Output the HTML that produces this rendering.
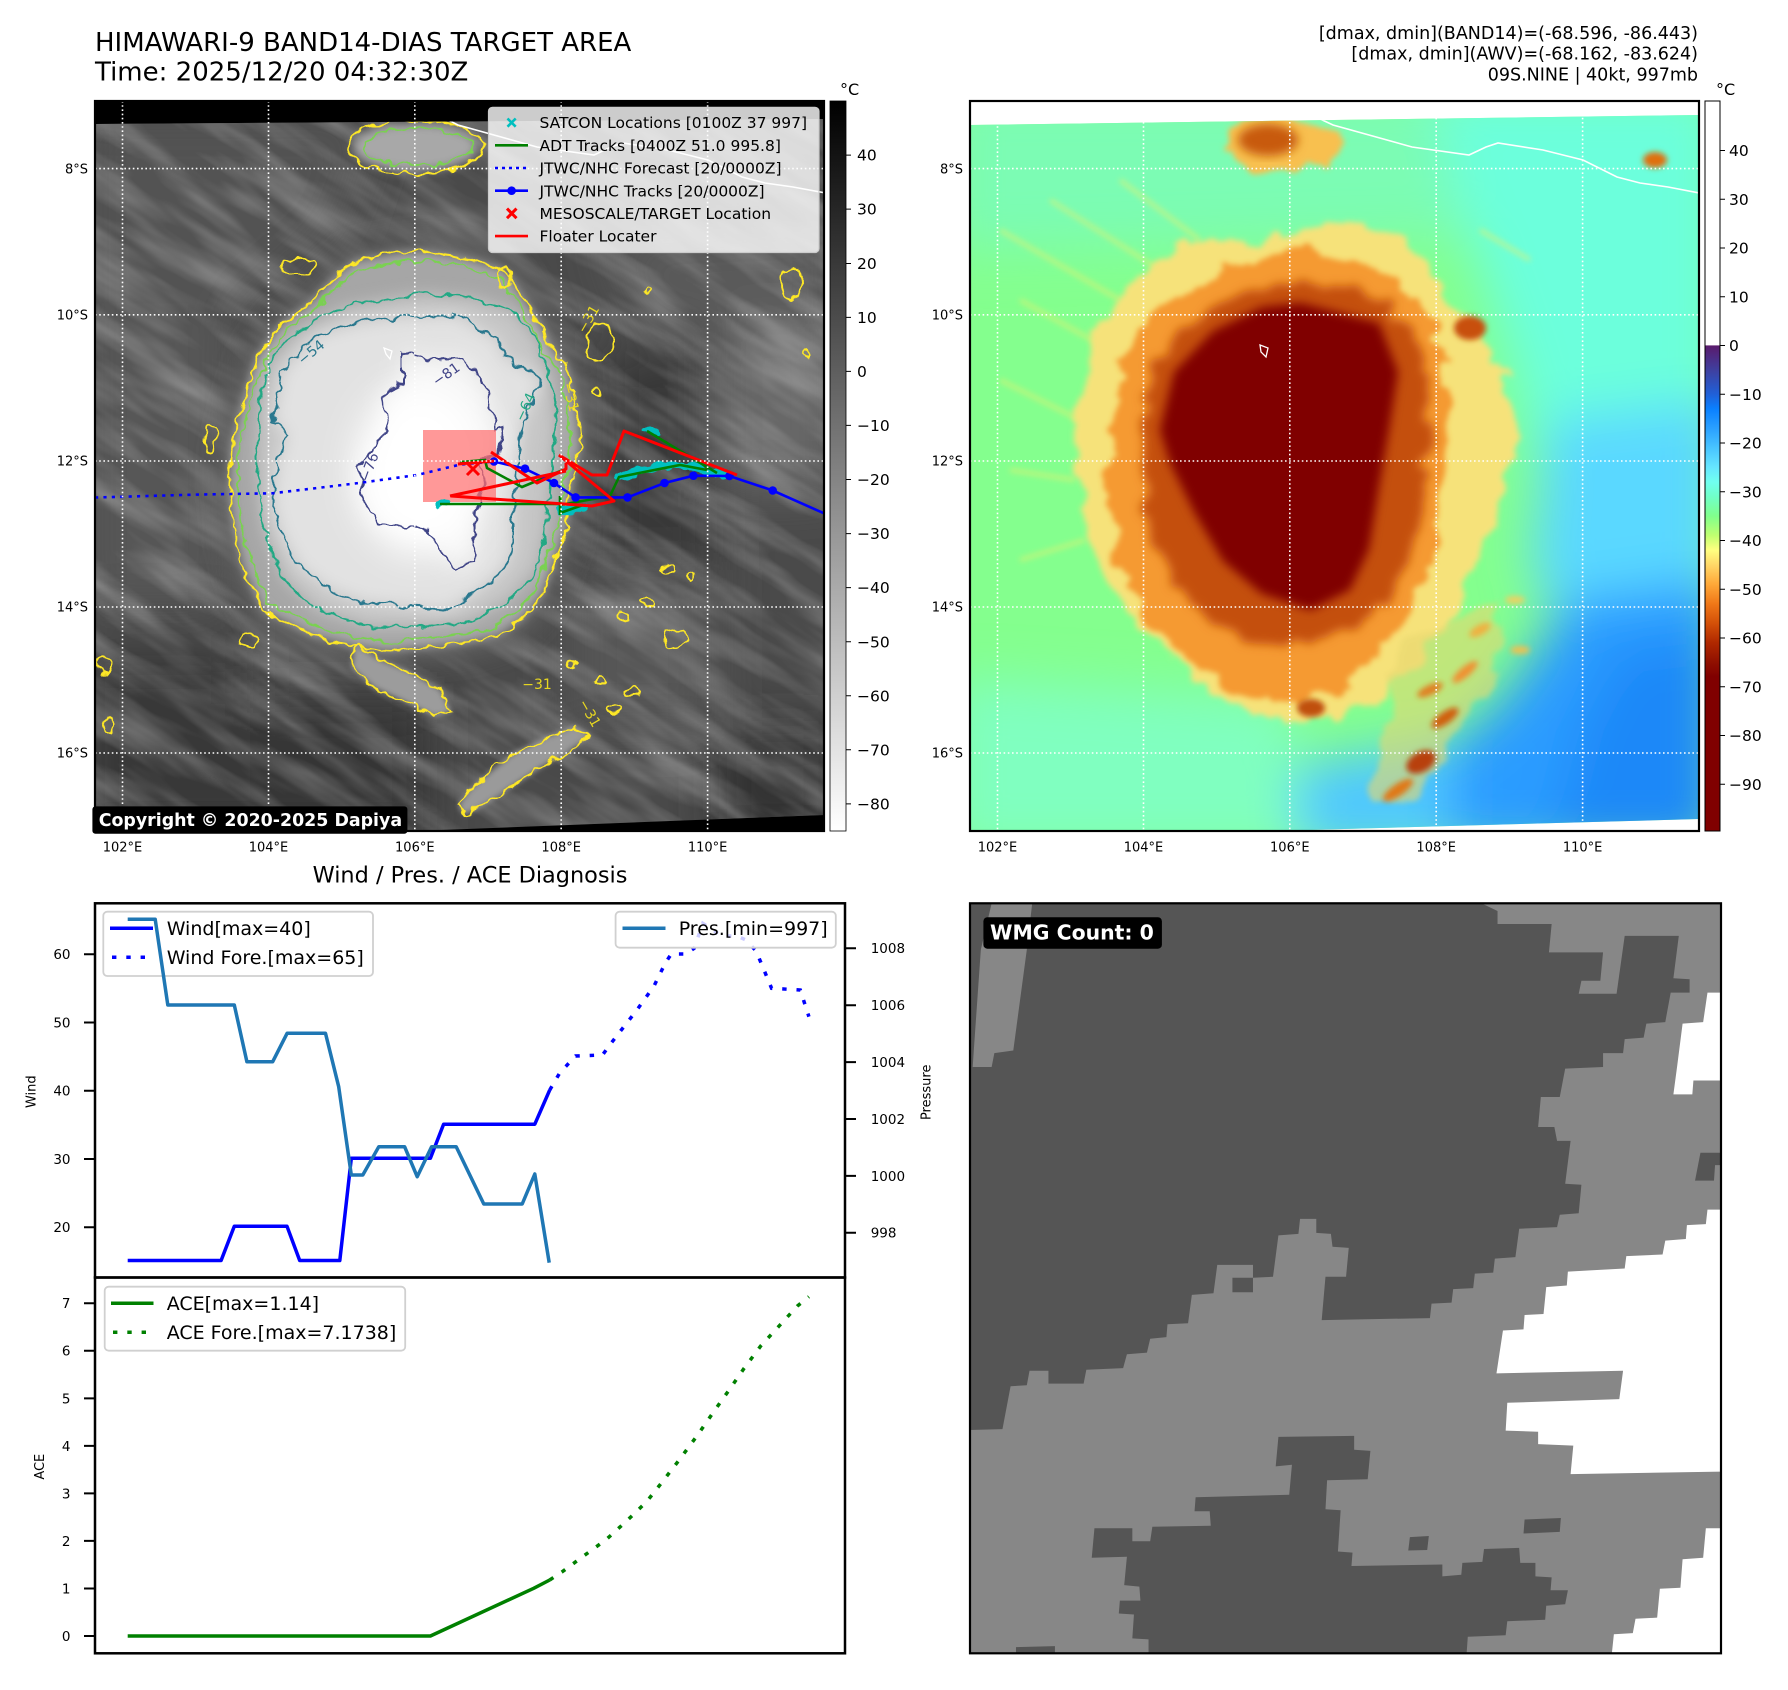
<!DOCTYPE html>
<html><head><meta charset="utf-8"><style>html,body{margin:0;padding:0;background:#fff}svg{display:block}</style></head>
<body>
<svg xmlns="http://www.w3.org/2000/svg" width="1788" height="1690" viewBox="0 0 1788 1690" font-family="'DejaVu Sans','Liberation Sans',sans-serif">
<defs>
 <filter id="b3" x="-20%" y="-20%" width="140%" height="140%"><feGaussianBlur stdDeviation="3"/></filter>
 <filter id="b5" x="-20%" y="-20%" width="140%" height="140%"><feGaussianBlur stdDeviation="5"/></filter>
 <filter id="b8" x="-25%" y="-25%" width="150%" height="150%"><feGaussianBlur stdDeviation="8"/></filter>
 <filter id="b12" x="-30%" y="-30%" width="160%" height="160%"><feGaussianBlur stdDeviation="12"/></filter>
 <filter id="b18" x="-40%" y="-40%" width="180%" height="180%"><feGaussianBlur stdDeviation="18"/></filter>
 <filter id="b25" x="-50%" y="-50%" width="200%" height="200%"><feGaussianBlur stdDeviation="25"/></filter>
 <filter id="tex" x="0" y="0" width="100%" height="100%"><feTurbulence type="fractalNoise" baseFrequency="0.008 0.04" numOctaves="3" seed="7"/><feColorMatrix values="0 0 0 0 1  0 0 0 0 1  0 0 0 0 1  0.55 0 0 0 -0.2"/></filter>
 <filter id="jag" x="-10%" y="-10%" width="120%" height="120%"><feTurbulence type="fractalNoise" baseFrequency="0.08" numOctaves="2" seed="3" result="n"/><feDisplacementMap in="SourceGraphic" in2="n" scale="12" xChannelSelector="R" yChannelSelector="G"/></filter>
 <filter id="jb" x="-20%" y="-20%" width="140%" height="140%"><feTurbulence type="fractalNoise" baseFrequency="0.03" numOctaves="3" seed="5" result="n"/><feDisplacementMap in="SourceGraphic" in2="n" scale="34" xChannelSelector="R" yChannelSelector="G" result="d"/><feGaussianBlur in="d" stdDeviation="3"/></filter>
 <filter id="jb2" x="-20%" y="-20%" width="140%" height="140%"><feTurbulence type="fractalNoise" baseFrequency="0.04" numOctaves="2" seed="9" result="n"/><feDisplacementMap in="SourceGraphic" in2="n" scale="24" xChannelSelector="R" yChannelSelector="G" result="d"/><feGaussianBlur in="d" stdDeviation="5"/></filter>
 <clipPath id="c1"><path d="M95,124 L824,119 L824,815 L415,831 L95,831 Z"/></clipPath>
 <clipPath id="c1f"><rect x="95" y="101" width="729" height="730"/></clipPath>
 <clipPath id="c2"><path d="M970,125 L1699,115 L1699,819 L1272,831 L970,831 Z"/></clipPath>
 <clipPath id="c2f"><rect x="970" y="101" width="729" height="730"/></clipPath>
 <clipPath id="c3"><rect x="970" y="903.3" width="751" height="750"/></clipPath>
 <linearGradient id="g1" x1="0" y1="0" x2="0" y2="1"><stop offset="0" stop-color="#000"/><stop offset="1" stop-color="#fff"/></linearGradient>
 <linearGradient id="g2" x1="0" y1="0" x2="0" y2="1">
  <stop offset="0" stop-color="#fff"/><stop offset="0.3345" stop-color="#fff"/>
  <stop offset="0.3350" stop-color="#5a1a6c"/><stop offset="0.3682" stop-color="#3f3f9f"/>
  <stop offset="0.4016" stop-color="#2060d8"/><stop offset="0.4216" stop-color="#0a80ff"/>
  <stop offset="0.4483" stop-color="#2aa0ff"/><stop offset="0.4750" stop-color="#48c4ff"/>
  <stop offset="0.5017" stop-color="#66e6ff"/><stop offset="0.5218" stop-color="#70fff0"/>
  <stop offset="0.5418" stop-color="#70ffc8"/><stop offset="0.5685" stop-color="#80ff8c"/>
  <stop offset="0.5952" stop-color="#c0ff70"/><stop offset="0.6152" stop-color="#ffff80"/>
  <stop offset="0.6353" stop-color="#ffd868"/><stop offset="0.6620" stop-color="#ffa838"/>
  <stop offset="0.6887" stop-color="#f07818"/><stop offset="0.7154" stop-color="#d45008"/>
  <stop offset="0.7421" stop-color="#b02800"/><stop offset="0.7688" stop-color="#901000"/>
  <stop offset="0.7888" stop-color="#800000"/><stop offset="1" stop-color="#800000"/>
 </linearGradient>
 <path id="pY" d="M330,282 L354,261.5 L397.7,253 L426.5,251 L465,258 L503.5,269.7 L513,282 L537,319 L551.5,347.7 L566,364 L575.6,405 L580.4,446 L570.8,487 L566,528 L551.5,569 L542,594 L522.7,618.5 L498.6,635 L465,643 L426.5,647 L388,651 L359,647 L311,635 L263,610 L244,569 L234,528 L229.4,487 L231.8,446 L244,397 L258,356 L282.3,323 L311,302.6 Z"/>
 <path id="pT" d="M268,364 L297,331 L345,306.7 L393,298.5 L426.5,294 L474.6,298.5 L513,311 L537,339.5 L551.5,384.6 L556,425.6 L551.5,466.7 L546.7,528 L537,569 L508,602 L465,622.6 L417,626.7 L369,626.7 L316,610 L282.3,577.4 L263,528 L258,487 L256,446 L260.7,397 Z"/>
 <path id="pTB" d="M503.5,356 L532.3,372.3 L542,380.5 L522.7,421.5 L518,462.6 L513,511.8 L513,548.7 L503.5,569.2 L474.6,593.8 L445.8,610.3 L402.5,606 L364,602 L330.4,589.7 L301.5,569.2 L282.3,536.4 L272.7,503.6 L277.5,462.6 L287,433.8 L272.7,421.5 L277.5,397 L282.3,372.3 L316,335.4 L359,323 L402.5,317 L455.4,315 L498.6,339.5 Z"/>
 <path id="pN" d="M402.5,351.8 L426.5,360 L465,358 L474.6,372.3 L489,392.8 L494,429.7 L503.5,425.6 L498.6,454.4 L479.4,462.6 L484.2,487.2 L474.6,511.8 L474.6,540.5 L474.6,561 L455.4,569.2 L445.8,557 L426.5,528.2 L378.5,524 L364,503.6 L359.2,466.7 L388,429.7 L383.3,392.8 L402.5,384.6 Z"/>
 <path id="pSP1" d="M355,645 L380,660 L410,672 L440,690 L452,712 L435,716 L405,702 L375,688 L352,668 Z"/>
 <path id="pSP2" d="M458,806 L470,790 L490,772 L515,752 L545,738 L575,726 L590,735 L570,750 L540,768 L510,788 L482,806 L465,815 Z"/>
</defs>

<!-- ===== Titles ===== -->
<text x="95" y="51" font-size="26">HIMAWARI-9 BAND14-DIAS TARGET AREA</text>
<text x="95" y="80.5" font-size="26">Time: 2025/12/20 04:32:30Z</text>
<g font-size="17.5" text-anchor="end">
 <text x="1698" y="39">[dmax, dmin](BAND14)=(-68.596, -86.443)</text>
 <text x="1698" y="59.6">[dmax, dmin](AWV)=(-68.162, -83.624)</text>
 <text x="1698" y="80.3">09S.NINE | 40kt, 997mb</text>
</g>

<!-- ===== MAP 1 ===== -->
<rect x="95" y="101" width="729" height="730" fill="#000"/>
<g clip-path="url(#c1)">
 <rect x="90" y="100" width="740" height="735" fill="#4a4a4a"/>
 <g filter="url(#b25)">
  <path d="M80,110 L380,110 L340,230 L260,300 L170,370 L80,400 Z" fill="#535353"/>
  <path d="M600,230 L840,220 L840,330 L640,330 Z" fill="#5a5a5a"/>
  <path d="M600,350 L720,350 L720,570 L600,570 Z" fill="#393939"/>
  <path d="M715,320 L840,320 L840,490 L715,490 Z" fill="#686868"/>
  <path d="M80,320 L235,320 L235,610 L80,610 Z" fill="#575757"/>
  <path d="M80,650 L250,650 L250,840 L80,840 Z" fill="#373737"/>
  <path d="M715,730 L840,730 L840,840 L715,840 Z" fill="#313131"/>
  <path d="M570,570 L715,570 L715,730 L570,730 Z" fill="#565656"/>
  <path d="M250,700 L430,700 L430,840 L250,840 Z" fill="#353535"/>
 </g>
 <rect x="-300" y="-300" width="1500" height="1500" transform="rotate(32 460 466)" filter="url(#tex)"/>
 <use href="#pY" transform="translate(405,450) scale(1.06) translate(-405,-450)" fill="#626262" filter="url(#b12)"/>
 <use href="#pY" fill="#a6a6a6" filter="url(#b5)"/>
 <use href="#pT" fill="#c6c6c6" filter="url(#b8)"/>
 <use href="#pTB" fill="#e2e2e2" filter="url(#b8)"/>
 <use href="#pN" fill="#f6f6f6" filter="url(#b12)"/>
 <ellipse cx="420" cy="470" rx="65" ry="85" fill="#fff" filter="url(#b18)"/>
 <ellipse cx="415" cy="147" rx="62" ry="24" fill="#a8a8a8" filter="url(#b5)"/>
 <use href="#pSP1" fill="#9c9c9c" filter="url(#b3)"/>
 <use href="#pSP2" fill="#9a9a9a" filter="url(#b3)"/>
 <!-- contours -->
 <g fill="none" stroke-width="2" filter="url(#jag)">
  <use href="#pY" stroke="#fde725"/>
  <use href="#pY" stroke="#7ad151" transform="translate(405,450) scale(0.955) translate(-405,-450)"/>
  <use href="#pT" stroke="#22a884"/>
  <use href="#pTB" stroke="#2a788e"/>
  <use href="#pN" stroke="#414487"/>
  <use href="#pSP1" stroke="#fde725"/>
  <use href="#pSP2" stroke="#fde725"/>
  <ellipse cx="415" cy="147" rx="68" ry="27" stroke="#fde725"/>
  <ellipse cx="418" cy="147" rx="54" ry="18" stroke="#7ad151"/>
  <g stroke="#fde725">
   <ellipse cx="210" cy="440" rx="6" ry="13"/>
   <ellipse cx="792" cy="284" rx="10" ry="16"/>
   <ellipse cx="806" cy="356" rx="4" ry="4"/>
   <ellipse cx="648" cy="290" rx="4" ry="3"/>
   <ellipse cx="595" cy="393" rx="4" ry="4"/>
   <ellipse cx="600" cy="342" rx="14" ry="18"/>
   <ellipse cx="667" cy="569" rx="6" ry="4"/>
   <ellipse cx="691" cy="577" rx="4" ry="5"/>
   <ellipse cx="648" cy="602" rx="7" ry="4"/>
   <ellipse cx="624" cy="618" rx="5" ry="4"/>
   <ellipse cx="677" cy="639" rx="12" ry="9"/>
   <ellipse cx="633" cy="692" rx="8" ry="5"/>
   <ellipse cx="600" cy="680" rx="6" ry="4"/>
   <ellipse cx="571" cy="664" rx="5" ry="4"/>
   <ellipse cx="614" cy="709" rx="6" ry="4"/>
   <ellipse cx="104" cy="664" rx="8" ry="10"/>
   <ellipse cx="109" cy="725" rx="6" ry="8"/>
   <ellipse cx="299" cy="266" rx="18" ry="8"/>
   <ellipse cx="504" cy="278" rx="8" ry="10"/>
   <ellipse cx="250" cy="640" rx="8" ry="6"/>
  </g>
 </g>
 <g font-size="14">
  <text x="311" y="357" fill="#2a788e" transform="rotate(-40 311 352)" text-anchor="middle">−54</text>
  <text x="369" y="472" fill="#414487" transform="rotate(-70 369 467)" text-anchor="middle">−76</text>
  <text x="446" y="379" fill="#414487" transform="rotate(-35 446 374)" text-anchor="middle">−81</text>
  <text x="525" y="412" fill="#22a884" transform="rotate(-65 525 407)" text-anchor="middle">−64</text>
  <text x="571" y="402" fill="#e8d820" transform="rotate(75 571 397)" text-anchor="middle">−31</text>
  <text x="588" y="324" fill="#e8d820" transform="rotate(-60 588 319)" text-anchor="middle">−31</text>
  <text x="537" y="689" fill="#e8d820" text-anchor="middle">−31</text>
  <text x="590" y="718" fill="#e8d820" transform="rotate(60 590 713)" text-anchor="middle">−31</text>
 </g>
 <!-- coastline -->
 <path d="M446,101 L443,110 L444,118 L458,125 L537,147 L594,155 L611,147 L623,143 L668,150 L708,160 L742,177 L765,183 L793,187 L826,193" fill="none" stroke="#fff" stroke-width="1.6"/>
 <path d="M384,348 L392,351 L390,359 L386,354 Z" fill="none" stroke="#fff" stroke-width="1.3"/>
 <!-- tracks -->
 <rect x="423" y="430" width="73" height="72" fill="#ff7070" opacity="0.72"/>
 <path d="M95,497.5 L200,494.5 L272.7,493.3 L359,483 L417,475 L460,464.6 L494,461.5" fill="none" stroke="#0000ff" stroke-width="2.6" stroke-dasharray="3.2 5.2"/>
 <g fill="none" stroke="#00bfbf" stroke-linecap="round" filter="url(#jag)">
  <path d="M618,478 L640,470 L663,465 L693,467 L723,475" stroke-width="8"/>
  <path d="M436,505 L448,503" stroke-width="6"/>
  <path d="M558,512 L585,508" stroke-width="6"/>
  <path d="M645,430 L656,434" stroke-width="5"/>
 </g>
 <g fill="none" stroke="#008000" stroke-width="2.6">
  <path d="M440,504 L560,504"/>
  <path d="M460,462 L485,460 L487,468 L522,487 L563,470"/>
  <path d="M560,513 L583,505"/><path d="M560,496 L560,515"/>
  <path d="M560,505 L610,496 L619,477 L680,465 L707,470"/>
  <path d="M647,431 L717,473"/>
 </g>
 <path d="M494,461.5 L525,468.7 L554,483 L575.6,497.4 L627.5,497.4 L664.5,483 L693.4,475.7 L729.4,476 L772.7,490.5 L830,516" fill="none" stroke="#0000ff" stroke-width="2.6"/>
 <g fill="#0000ff">
  <circle cx="494" cy="461.5" r="4.3"/><circle cx="525" cy="468.7" r="4.3"/><circle cx="554" cy="483" r="4.3"/>
  <circle cx="575.6" cy="497.4" r="4.3"/><circle cx="627.5" cy="497.4" r="4.3"/><circle cx="664.5" cy="483" r="4.3"/>
  <circle cx="693.4" cy="475.7" r="4.3"/><circle cx="729.4" cy="476" r="4.3"/><circle cx="772.7" cy="490.5" r="4.3"/>
 </g>
 <g fill="none" stroke="#ff0000" stroke-width="3" stroke-linejoin="round">
  <path d="M458,464 L494,461"/>
  <path d="M491,452 L537,483 L566,469 L566,463"/>
  <path d="M450,496 L566,471"/>
  <path d="M559,455 L614,501 L592,506 L451,496"/>
  <path d="M559,455 L592,475 L607,475 L624,431 L737,475"/>
  <path d="M467,463 L479,475 M479,463 L467,475"/>
 </g>
</g>
<!-- map1 gridlines -->
<g clip-path="url(#c1f)" stroke="#fff" stroke-width="1.6" stroke-dasharray="1.6 2.6" fill="none">
 <path d="M122.5,101V831 M268.5,101V831 M414.8,101V831 M561.2,101V831 M707.6,101V831"/>
 <path d="M95,168.6H824 M95,314.8H824 M95,461H824 M95,607H824 M95,753H824"/>
</g>
<!-- map1 legend -->
<rect x="488.5" y="107.3" width="330.5" height="145.2" rx="4" fill="#fff" fill-opacity="0.8" stroke="#cccccc" stroke-width="1.2"/>
<g font-size="15.5">
 <path d="M507.5,118.5 L515.7,126.7 M515.7,118.5 L507.5,126.7" stroke="#00bfbf" stroke-width="2.6"/>
 <text x="539.5" y="128.2">SATCON Locations [0100Z 37 997]</text>
 <path d="M495,145.3 H528" stroke="#008000" stroke-width="2.6"/>
 <text x="539.5" y="150.9">ADT Tracks [0400Z 51.0 995.8]</text>
 <path d="M495,168 H528" stroke="#0000ff" stroke-width="2.6" stroke-dasharray="3 4"/>
 <text x="539.5" y="173.6">JTWC/NHC Forecast [20/0000Z]</text>
 <path d="M495,190.7 H528" stroke="#0000ff" stroke-width="2.6"/><circle cx="511.6" cy="190.7" r="4.3" fill="#0000ff"/>
 <text x="539.5" y="196.3">JTWC/NHC Tracks [20/0000Z]</text>
 <path d="M507,208.6 L516.5,218.2 M516.5,208.6 L507,218.2" stroke="#ff0000" stroke-width="3"/>
 <text x="539.5" y="219">MESOSCALE/TARGET Location</text>
 <path d="M495,236.1 H528" stroke="#ff0000" stroke-width="2.6"/>
 <text x="539.5" y="241.7">Floater Locater</text>
</g>
<!-- copyright -->
<rect x="92.4" y="806.4" width="315" height="27.4" rx="3" fill="#000"/>
<text x="98.7" y="826" font-size="17.4" font-weight="bold" fill="#fff">Copyright © 2020-2025 Dapiya</text>
<rect x="95" y="101" width="729" height="730" fill="none" stroke="#000" stroke-width="2.2"/>
<!-- map1 labels -->
<g font-size="13" text-anchor="end">
 <text x="88" y="173.3">8°S</text><text x="88" y="319.5">10°S</text><text x="88" y="465.7">12°S</text><text x="88" y="611.7">14°S</text><text x="88" y="757.7">16°S</text>
</g>
<g font-size="13" text-anchor="middle">
 <text x="122.5" y="851.7">102°E</text><text x="268.5" y="851.7">104°E</text><text x="414.8" y="851.7">106°E</text><text x="561.2" y="851.7">108°E</text><text x="707.6" y="851.7">110°E</text>
</g>
<!-- colorbar 1 -->
<rect x="830" y="101" width="16" height="730" fill="url(#g1)" stroke="#000" stroke-width="0.8"/>
<text x="840" y="95" font-size="16">°C</text>
<g stroke="#000" stroke-width="1">
 <path d="M846,155.1h5 M846,209.1h5 M846,263.5h5 M846,317.4h5 M846,371.4h5 M846,425.4h5 M846,479.5h5 M846,533.6h5 M846,587.6h5 M846,641.7h5 M846,695.8h5 M846,749.8h5 M846,803.9h5"/>
</g>
<g font-size="15.5">
 <text x="857" y="160.7">40</text><text x="857" y="214.7">30</text><text x="857" y="269.1">20</text><text x="857" y="323">10</text><text x="857" y="377">0</text>
 <text x="857" y="431">−10</text><text x="857" y="485.1">−20</text><text x="857" y="539.2">−30</text><text x="857" y="593.2">−40</text>
 <text x="857" y="647.3">−50</text><text x="857" y="701.4">−60</text><text x="857" y="755.4">−70</text><text x="857" y="809.5">−80</text>
</g>

<!-- ===== MAP 2 ===== -->
<g clip-path="url(#c2)">
 <rect x="960" y="100" width="750" height="740" fill="#84ff8e"/>
 <g filter="url(#b25)">
  <path d="M950,90 L1720,90 L1720,230 L950,250 Z" fill="#7cfcb4"/>
  <path d="M1430,90 L1720,90 L1720,640 L1600,600 L1540,480 L1510,360 L1470,240 Z" fill="#6cffdc"/>
  <path d="M1550,420 L1720,400 L1720,720 L1580,690 L1530,560 Z" fill="#5ad8ff"/>
  <path d="M1570,600 L1720,580 L1720,850 L1390,850 L1420,770 L1500,700 Z" fill="#2c9cff"/>
  <path d="M1620,650 L1720,640 L1720,850 L1550,850 L1580,730 Z" fill="#1a88f8"/>
  <path d="M1270,770 L1450,740 L1450,850 L1260,850 Z" fill="#50c8ff"/>
  <path d="M950,680 L1290,700 L1300,850 L950,850 Z" fill="#80ffc0"/>
 </g>
 <g stroke="#e8f070" stroke-width="4" opacity="0.6" filter="url(#b3)" fill="none">
  <path d="M1000,230 L1120,300"/><path d="M1050,200 L1160,270"/><path d="M1020,300 L1110,350"/>
  <path d="M1000,380 L1080,420"/><path d="M1010,470 L1075,480"/><path d="M1020,560 L1085,540"/>
  <path d="M1120,180 L1200,240"/><path d="M1480,230 L1530,260"/>
 </g>
 <path d="M1072,430 L1091,335 L1130,282 L1179,249 L1252,237 L1340,225 L1398,233 L1428,261 L1447,303 L1476,319 L1496,356 L1515,405 L1510,463 L1496,512 L1476,569 L1450,620 L1420,660 L1380,700 L1330,720 L1252,717 L1204,692 L1170,655 L1130,610 L1101,569 L1082,508 Z" fill="#f6e27a" filter="url(#jb)"/>
 <path d="M1400,650 L1450,620 L1495,600 L1505,640 L1485,690 L1455,730 L1432,778 L1402,805 L1368,800 L1375,760 L1390,700 Z" fill="#e8d870" opacity="0.6" filter="url(#jb)"/>
 <path d="M1106,430 L1121,364 L1155,315 L1204,274 L1262,257 L1311,249 L1374,266 L1413,303 L1437,335 L1447,385 L1447,446 L1442,508 L1433,561 L1408,610 L1380,650 L1340,690 L1301,705 L1233,690 L1184,660 L1145,614 L1121,561 L1106,495 Z" fill="#f59a32" filter="url(#jb)"/>
 <path d="M1140,430 L1155,364 L1194,323 L1243,290 L1291,282 L1350,286 L1389,307 L1418,335 L1428,385 L1428,446 L1423,512 L1408,561 L1389,602 L1350,631 L1301,647 L1243,639 L1194,610 L1165,569 L1145,512 Z" fill="#c4500e" filter="url(#jb2)"/>
 <path d="M1262,307 L1301,303 L1379,323 L1398,372 L1389,430 L1379,487 L1369,549 L1350,590 L1311,610 L1262,594 L1223,561 L1194,512 L1170,463 L1160,430 L1174,372 L1213,331 Z" fill="#800000" filter="url(#b5)"/>
 <ellipse cx="1285" cy="145" rx="62" ry="28" fill="#f8c050" filter="url(#jb)"/>
 <ellipse cx="1268" cy="140" rx="30" ry="16" fill="#c85a10" filter="url(#b5)"/>
 <g filter="url(#b3)">
  <ellipse cx="1470" cy="328" rx="16" ry="12" fill="#c85010"/>
  <ellipse cx="1421" cy="762" rx="16" ry="10" fill="#b84008" transform="rotate(-30 1421 762)"/>
  <ellipse cx="1398" cy="790" rx="18" ry="6" fill="#e07818" transform="rotate(-35 1398 790)"/>
  <ellipse cx="1311" cy="708" rx="14" ry="9" fill="#c05010"/>
  <ellipse cx="1655" cy="160" rx="12" ry="8" fill="#e07010"/>
  <ellipse cx="1445" cy="718" rx="16" ry="6" fill="#d06010" transform="rotate(-35 1445 718)"/>
  <ellipse cx="1465" cy="672" rx="16" ry="5" fill="#f09030" transform="rotate(-40 1465 672)"/>
  <ellipse cx="1480" cy="630" rx="12" ry="5" fill="#f0b040" transform="rotate(-30 1480 630)"/>
  <ellipse cx="1430" cy="690" rx="14" ry="5" fill="#e08020" transform="rotate(-25 1430 690)"/>
  <ellipse cx="1515" cy="600" rx="10" ry="4" fill="#f0d060"/>
  <ellipse cx="1520" cy="650" rx="10" ry="4" fill="#f0c050"/>
 </g>
 <path d="M1318,118 L1333,125 L1412,147 L1469,155 L1486,147 L1498,143 L1543,150 L1583,160 L1617,177 L1640,183 L1668,187 L1699,193" fill="none" stroke="#fff" stroke-width="1.6"/>
 <path d="M1260,345 L1268,348 L1266,357 L1261,352 Z" fill="none" stroke="#fff" stroke-width="1.3"/>
</g>
<g clip-path="url(#c2f)" stroke="#fff" stroke-width="1.6" stroke-dasharray="1.6 2.6" fill="none">
 <path d="M997.5,101V831 M1143.5,101V831 M1289.8,101V831 M1436.2,101V831 M1582.6,101V831"/>
 <path d="M970,168.6H1699 M970,314.8H1699 M970,461H1699 M970,607H1699 M970,753H1699"/>
</g>
<rect x="970" y="101" width="729" height="730" fill="none" stroke="#000" stroke-width="2.2"/>
<g font-size="13" text-anchor="end">
 <text x="963" y="173.3">8°S</text><text x="963" y="319.5">10°S</text><text x="963" y="465.7">12°S</text><text x="963" y="611.7">14°S</text><text x="963" y="757.7">16°S</text>
</g>
<g font-size="13" text-anchor="middle">
 <text x="997.5" y="851.7">102°E</text><text x="1143.5" y="851.7">104°E</text><text x="1289.8" y="851.7">106°E</text><text x="1436.2" y="851.7">108°E</text><text x="1582.6" y="851.7">110°E</text>
</g>
<!-- colorbar 2 -->
<rect x="1705" y="101" width="15" height="730" fill="url(#g2)" stroke="#000" stroke-width="1"/>
<text x="1716" y="95" font-size="16">°C</text>
<g stroke="#000" stroke-width="1">
 <path d="M1720,150.5h5 M1720,199.3h5 M1720,248h5 M1720,296.8h5 M1720,345.5h5 M1720,394.3h5 M1720,443h5 M1720,491.8h5 M1720,540.5h5 M1720,589.3h5 M1720,638h5 M1720,686.8h5 M1720,735.5h5 M1720,784.3h5"/>
</g>
<g font-size="15.5">
 <text x="1729" y="156.1">40</text><text x="1729" y="204.9">30</text><text x="1729" y="253.6">20</text><text x="1729" y="302.4">10</text><text x="1729" y="351.1">0</text>
 <text x="1729" y="399.9">−10</text><text x="1729" y="448.6">−20</text><text x="1729" y="497.4">−30</text><text x="1729" y="546.1">−40</text>
 <text x="1729" y="594.9">−50</text><text x="1729" y="643.6">−60</text><text x="1729" y="692.4">−70</text><text x="1729" y="741.1">−80</text><text x="1729" y="789.9">−90</text>
</g>

<!-- ===== BOTTOM LEFT PLOTS ===== -->
<text x="470" y="882.3" font-size="22.4" text-anchor="middle">Wind / Pres. / ACE Diagnosis</text>
<!-- upper -->
<path d="M127.7,1260.5 L221.1,1260.5 L234.3,1226.3 L287,1226.3 L299.7,1260.5 L339.8,1260.5 L351.3,1158.3 L430.4,1158.3 L443.6,1124.2 L534.8,1124.2 L549.7,1090.1" fill="none" stroke="#0000ff" stroke-width="3.5" stroke-linejoin="round"/>
<path d="M549.7,1090.1 L559.5,1073.3 L575.5,1056 L602.5,1055 L611,1043.3 L636.9,1010 L654,986 L665.5,962.7 L671.3,954 L685.6,954 L694.2,948.3 L702.8,923.3 L721.7,936 L737.2,936 L745.8,940 L756.1,951 L771.6,988.3 L800.3,990 L808.9,1016.7" fill="none" stroke="#0000ff" stroke-width="3.5" stroke-dasharray="4.4 9.9"/>
<rect x="103.3" y="911.7" width="269.7" height="64.3" rx="4" fill="#fff" fill-opacity="0.8" stroke="#d0d0d0" stroke-width="1.8"/>
<path d="M110,928.3 H153" stroke="#0000ff" stroke-width="3.5"/>
<path d="M112,957.3 H153" stroke="#0000ff" stroke-width="3.5" stroke-dasharray="4.4 9.9"/>
<g font-size="19">
 <text x="166.7" y="935.2">Wind[max=40]</text>
 <text x="166.7" y="964.2">Wind Fore.[max=65]</text>
</g>
<path d="M127.7,919.3 L155.2,919.3 L167.8,1005 L234.3,1005 L246.9,1061.7 L272.7,1061.7 L287.1,1033.3 L325.5,1033.3 L338.7,1086.7 L351.3,1175 L362.8,1175 L378.8,1146.7 L404.6,1146.7 L417.2,1176.7 L431.6,1146.7 L456.2,1146.7 L483.8,1204 L522.2,1204 L534.8,1174 L549.2,1262.7" fill="none" stroke="#1f77b4" stroke-width="3.5" stroke-linejoin="round"/>
<rect x="615.6" y="911.7" width="220.2" height="36" rx="4" fill="#fff" fill-opacity="0.8" stroke="#d0d0d0" stroke-width="1.8"/>
<path d="M622.5,928.3 H665.5" stroke="#1f77b4" stroke-width="3.5"/>
<text x="678.7" y="935.2" font-size="19">Pres.[min=997]</text>
<!-- lower ACE -->
<path d="M127.7,1636 L430.4,1636 L533.7,1588.3 L549.7,1580" fill="none" stroke="#008000" stroke-width="3.5" stroke-linejoin="round"/>
<path d="M549.7,1580 L562.3,1571.7 L584,1555.7 L606.5,1539.3 L626.6,1521 L646.6,1501.7 L663.8,1480 L680.4,1458.3 L697.1,1435.7 L712.6,1413.3 L728.6,1390.7 L744.1,1368.3 L760.7,1346 L779.1,1326 L797.4,1306 L808.9,1296.7" fill="none" stroke="#008000" stroke-width="3.5" stroke-dasharray="4.4 9.9"/>
<rect x="104.7" y="1286.7" width="300.5" height="64" rx="4" fill="#fff" fill-opacity="0.8" stroke="#d0d0d0" stroke-width="1.8"/>
<path d="M111,1303.3 H153.5" stroke="#008000" stroke-width="3.5"/>
<path d="M113,1332.3 H153.5" stroke="#008000" stroke-width="3.5" stroke-dasharray="4.4 9.9"/>
<g font-size="19">
 <text x="166.7" y="1310.2">ACE[max=1.14]</text>
 <text x="166.7" y="1339.2">ACE Fore.[max=7.1738]</text>
</g>
<!-- frames -->
<rect x="95" y="903.3" width="750" height="374.2" fill="none" stroke="#000" stroke-width="2.5"/>
<rect x="95" y="1277.5" width="750" height="375.8" fill="none" stroke="#000" stroke-width="2.5"/>
<!-- ticks -->
<g stroke="#000" stroke-width="2">
 <path d="M84,954.3H95 M84,1022.55H95 M84,1090.8H95 M84,1159.05H95 M84,1227.3H95"/>
 <path d="M845,948.3H856 M845,1005.2H856 M845,1062.1H856 M845,1119H856 M845,1175.9H856 M845,1232.8H856"/>
 <path d="M84,1636H95 M84,1588.5H95 M84,1540.9H95 M84,1493.4H95 M84,1445.9H95 M84,1398.4H95 M84,1350.8H95 M84,1303.3H95"/>
</g>
<g font-size="13.5" text-anchor="end">
 <text x="70.5" y="959.2">60</text><text x="70.5" y="1027.4">50</text><text x="70.5" y="1095.7">40</text><text x="70.5" y="1163.9">30</text><text x="70.5" y="1232.2">20</text>
 <text x="70.5" y="1640.9">0</text><text x="70.5" y="1593.4">1</text><text x="70.5" y="1545.8">2</text><text x="70.5" y="1498.3">3</text>
 <text x="70.5" y="1450.8">4</text><text x="70.5" y="1403.3">5</text><text x="70.5" y="1355.7">6</text><text x="70.5" y="1308.2">7</text>
</g>
<g font-size="13.5">
 <text x="870.7" y="953.2">1008</text><text x="870.7" y="1010.1">1006</text><text x="870.7" y="1067">1004</text>
 <text x="870.7" y="1123.9">1002</text><text x="870.7" y="1180.8">1000</text><text x="870.7" y="1237.7">998</text>
</g>
<g font-size="13" text-anchor="middle">
 <text transform="translate(35.4,1091.7) rotate(-90)">Wind</text>
 <text transform="translate(44.1,1466.7) rotate(-90)">ACE</text>
 <text transform="translate(930.4,1092.3) rotate(-90)">Pressure</text>
</g>

<!-- ===== BOTTOM RIGHT PANEL ===== -->
<g clip-path="url(#c3)">
<g transform="translate(970,903.3) scale(0.54107,0.51653) translate(-55,-45)">
 <rect x="40" y="30" width="1420" height="1480" fill="#878787"/>
 <path fill="#555" d="M58,45 L1000,45 L1030,60 L1030,85 L1130,85 L1125,140 L1225,140 L1220,195 L1185,195 L1180,220 L1250,220 L1265,108 L1365,108 L1355,190 L1385,192 L1385,218 L1350,218 L1340,275 L1305,278 L1300,305 L1265,308 L1262,335 L1225,335 L1225,362 L1155,365 L1145,420 L1110,420 L1105,478 L1135,478 L1140,505 L1165,505 L1155,588 L1185,590 L1180,645 L1145,648 L1140,672 L1070,675 L1063,730 L1025,733 L1022,760 L988,762 L985,790 L948,792 L945,818 L908,820 L905,848 L705,852 L712,768 L750,768 L755,712 L725,710 L722,685 L695,683 L695,656 L665,656 L662,685 L625,688 L615,768 L578,770 L578,745 L512,745 L505,800 L465,803 L458,858 L420,860 L418,885 L388,888 L382,915 L345,918 L338,945 L270,948 L265,975 L200,975 L200,950 L165,950 L160,978 L130,980 L115,1063 L40,1065 L40,45 Z"/>
 <path fill="#878787" d="M95,45 L170,45 L160,135 L135,330 L100,335 L95,362 L60,362 L62,330 L75,135 Z"/>
 <path fill="#555" d="M540,770 L578,770 L578,798 L540,798 Z"/>
 <path fill="#555" d="M1405,528 L1460,528 L1460,552 L1432,552 L1430,582 L1395,582 Z"/>
 <path fill="#fff" d="M1418,218 L1460,218 L1460,388 L1392,388 L1390,415 L1355,415 L1362,360 L1372,278 L1410,275 Z"/>
 <path fill="#fff" d="M1418,638 L1460,638 L1460,1145 L1165,1150 L1170,1095 L1105,1092 L1105,1068 L1045,1066 L1048,1012 L1255,1005 L1262,950 L1028,955 L1040,872 L1078,870 L1080,842 L1115,840 L1120,788 L1158,785 L1160,758 L1265,752 L1268,728 L1335,725 L1340,698 L1378,695 L1380,668 L1415,666 Z"/>
 <path fill="#fff" d="M1415,1255 L1460,1255 L1460,1510 L1240,1510 L1245,1460 L1280,1458 L1285,1430 L1325,1428 L1330,1372 L1368,1370 L1372,1315 L1410,1312 Z"/>
 <path fill="#555" d="M625,1078 L765,1076 L765,1103 L795,1105 L790,1160 L715,1162 L712,1218 L740,1220 L735,1300 L762,1302 L760,1328 L928,1325 L928,1348 L963,1345 L965,1322 L1002,1320 L1005,1295 L1070,1293 L1072,1322 L1100,1322 L1100,1348 L1130,1350 L1128,1375 L1160,1375 L1155,1402 L1120,1405 L1118,1432 L1048,1435 L1045,1462 L975,1465 L972,1510 L385,1510 L385,1470 L355,1468 L358,1422 L330,1420 L332,1395 L370,1395 L368,1368 L340,1365 L345,1310 L280,1312 L285,1255 L355,1255 L355,1280 L388,1280 L392,1252 L500,1250 L498,1222 L470,1222 L472,1195 L645,1190 L650,1132 L620,1135 Z"/>
 <path fill="#555" d="M1080,1238 L1147,1235 L1145,1262 L1078,1265 Z"/>
 <path fill="#555" d="M868,1272 L903,1270 L900,1297 L865,1298 Z"/>
 <path fill="#555" d="M140,1485 L212,1483 L212,1510 L140,1510 Z"/>
</g>
</g>
<rect x="970" y="903.3" width="751" height="750" fill="none" stroke="#000" stroke-width="2.2"/>
<rect x="983.4" y="917.2" width="178.5" height="31.5" rx="4" fill="#000"/>
<text x="990" y="939.3" font-size="20.4" font-weight="bold" fill="#fff">WMG Count: 0</text>
</svg>
</body></html>
